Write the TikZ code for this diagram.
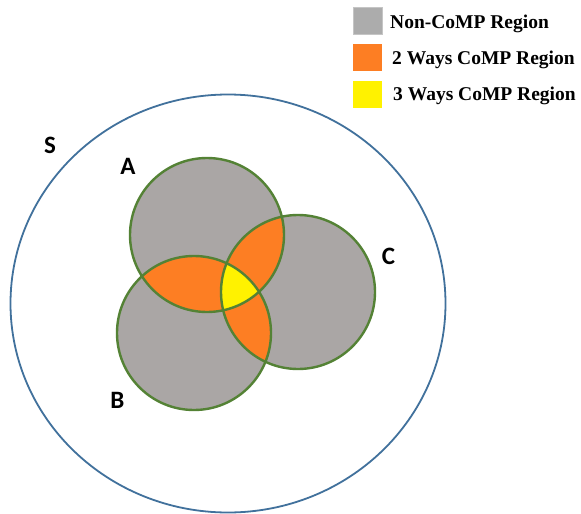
\documentclass[tikz,border=0pt]{standalone}
\usepackage{fontspec}
\setmainfont{Liberation Serif}
\newfontfamily\lblfont{Carlito}
\definecolor{cellgray}{RGB}{170,166,165}
\definecolor{cellgreen}{RGB}{84,130,53}
\definecolor{twoway}{RGB}{253,126,35}
\definecolor{threeway}{RGB}{255,242,0}
\definecolor{sysblue}{RGB}{65,113,156}
\definecolor{leggray}{RGB}{172,172,172}
\begin{document}
\begin{tikzpicture}[x=1pt,y=-1pt,
  cellline/.style={draw=cellgreen,line width=2.4pt},
  legbox/.style={minimum width=29pt,minimum height=27pt,inner sep=0pt},
  legtext/.style={anchor=base west,inner sep=0pt,font=\fontsize{19.5}{22}\selectfont\bfseries},
  setlabel/.style={inner sep=0pt,font=\lblfont\fontsize{25}{28}\selectfont\bfseries}]
\useasboundingbox (0,0) rectangle (581,514);
\fill[white] (0,0) rectangle (581,514);
% centres
\coordinate (cS) at (228,303.5);
\coordinate (cA) at (207,235);
\coordinate (cB) at (194,333);
\coordinate (cC) at (298,292);
% system area S
\draw[sysblue,line width=1.8pt] (cS) ellipse [x radius=217.5pt,y radius=209pt];
% cells
\fill[cellgray] (cA) circle [radius=77pt];
\fill[cellgray] (cB) circle [radius=77pt];
\fill[cellgray] (cC) circle [radius=77pt];
\begin{scope}
  \clip (cA) circle [radius=77pt];
  \fill[twoway] (cB) circle [radius=77pt];
  \fill[twoway] (cC) circle [radius=77pt];
\end{scope}
\begin{scope}
  \clip (cB) circle [radius=77pt];
  \fill[twoway] (cC) circle [radius=77pt];
\end{scope}
\begin{scope}
  \clip (cA) circle [radius=77pt];
  \clip (cB) circle [radius=77pt];
  \fill[threeway] (cC) circle [radius=77pt];
\end{scope}
\draw[cellline] (cA) circle [radius=77pt];
\draw[cellline] (cB) circle [radius=77pt];
\draw[cellline] (cC) circle [radius=77pt];
% labels
\node[setlabel] (lS) at (50,145) {S};
\node[setlabel] (lA) at (128,166) {A};
\node[setlabel] (lB) at (117.5,400) {B};
\node[setlabel] (lC) at (388.5,256) {C};
% legend
\node[legbox,fill=leggray,draw=leggray!70!white,line width=0.6pt] (k1) at (367.5,20.5) {};
\node[legbox,fill=twoway] (k2) at (367.5,57.5) {};
\node[legbox,fill=threeway] (k3) at (367.5,94) {};
\node[legtext] (t1) at (390,28.3) {Non-CoMP Region};
\node[legtext] (t2) at (392,64.3) {2 Ways CoMP Region};
\node[legtext] (t3) at (393,100) {3 Ways CoMP Region};
\end{tikzpicture}
\end{document}
